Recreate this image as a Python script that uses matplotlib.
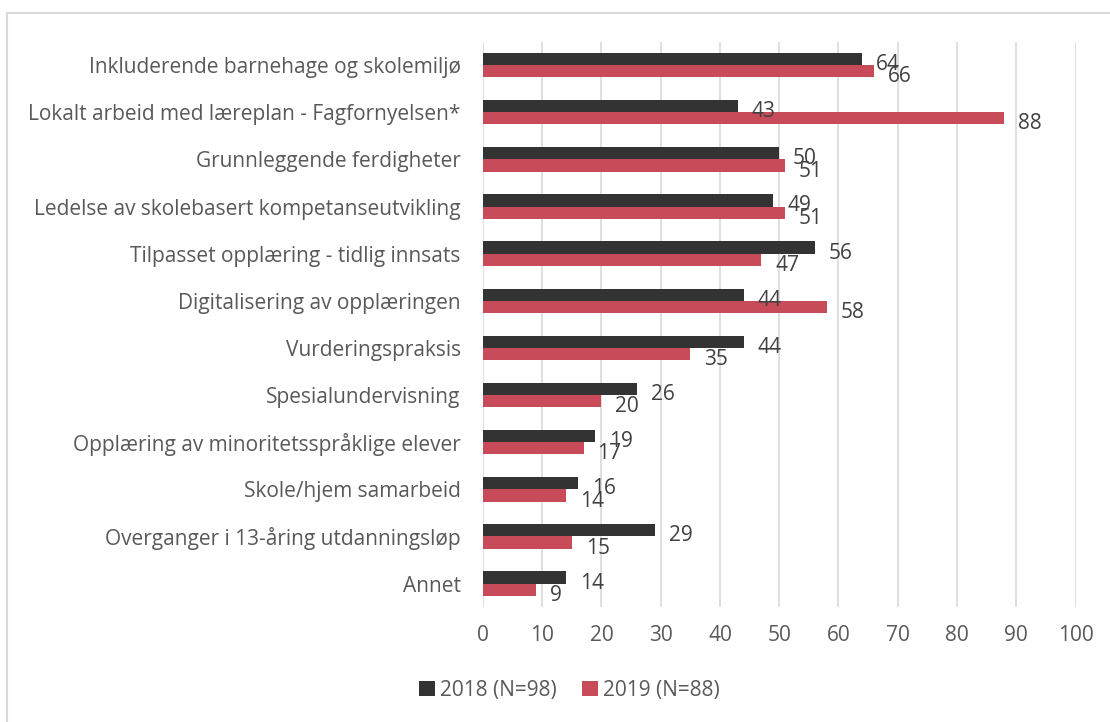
import numpy as np
import matplotlib
matplotlib.use('Agg')
import matplotlib.pyplot as plt
from matplotlib.patches import Rectangle

plt.rcParams['font.family'] = ['Open Sans', 'DejaVu Sans']

# data
categories = [
    'Inkluderende barnehage og skolemiljø',
    'Lokalt arbeid med læreplan - Fagfornyelsen*',
    'Grunnleggende ferdigheter',
    'Ledelse av skolebasert kompetanseutvikling',
    'Tilpasset opplæring - tidlig innsats',
    'Digitalisering av opplæringen',
    'Vurderingspraksis',
    'Spesialundervisning',
    'Opplæring av minoritetsspråklige elever',
    'Skole/hjem samarbeid',
    'Overganger i 13-åring utdanningsløp',
    'Annet',
]
values_2018 = [64, 43, 50, 49, 56, 44, 44, 26, 19, 16, 29, 14]
values_2019 = [66, 88, 51, 51, 47, 58, 35, 20, 17, 14, 15, 9]
series_labels = ['2018 (N=98)', '2019 (N=88)']

dark = '#333333'
red = '#C84B5A'
text_col = '#595959'

fig = plt.figure(figsize=(11.1, 7.22), dpi=100)
ax = fig.add_axes([0.435, 0.159, 0.534, 0.7835])

y = np.arange(len(categories))
h = 0.26
b1 = ax.barh(y - h / 2, values_2018, height=h, color=dark, label=series_labels[0], zorder=3)
b2 = ax.barh(y + h / 2, values_2019, height=h, color=red, label=series_labels[1], zorder=3)

# data labels, offset right of bar end
for bars, vals in ((b1, values_2018), (b2, values_2019)):
    for rect, v in zip(bars, vals):
        ax.annotate(str(v), (v, rect.get_y() + rect.get_height() / 2),
                    xytext=(10, -4), textcoords='offset points',
                    ha='left', va='center', fontsize=15, color='#404040', zorder=4)

ax.set_xlim(0, 100)
ax.set_xticks(range(0, 101, 10))
ax.set_ylim(len(categories) - 0.5, -0.5)
ax.set_yticks(y)
ax.set_yticklabels(categories)
ax.tick_params(axis='both', length=0, labelsize=15, labelcolor=text_col)
ax.tick_params(axis='x', pad=13)
ax.tick_params(axis='y', pad=16)
ax.grid(axis='x', color='#D9D9D9', linewidth=1.2, zorder=0)
for s in ax.spines.values():
    s.set_visible(False)

leg = fig.legend(handles=[b1, b2], loc='center', bbox_to_anchor=(0.513, 0.044), ncol=2,
                 frameon=False, fontsize=15, handlelength=0.75, handleheight=0.75,
                 handletextpad=0.25, columnspacing=1.2)
for t in leg.get_texts():
    t.set_color(text_col)

# outer chart border
fig.patches.append(Rectangle((7 / 1110, -0.05), 1.1, 1 - 13 / 722 + 0.05,
                             transform=fig.transFigure, fill=False,
                             edgecolor='#D9D9D9', linewidth=1.5))

fig.savefig('out.png', dpi=100)
